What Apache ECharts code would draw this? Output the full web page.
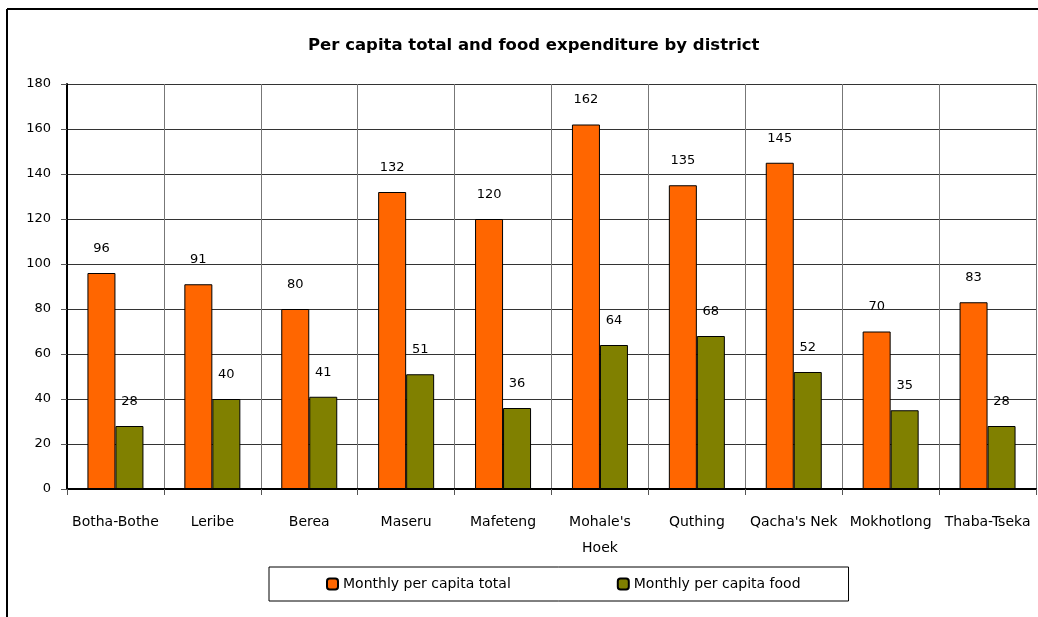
<!DOCTYPE html>
<html>
<head>
<meta charset="utf-8">
<script src="https://cdn.jsdelivr.net/npm/echarts@6/dist/echarts.min.js"></script>
<style>html,body{margin:0;padding:0;background:#fff;}#c{width:1038px;height:617px;}</style>
</head>
<body>
<div id="c"></div>
<script>
const districts = ['Botha-Bothe','Leribe','Berea','Maseru','Mafeteng',"Mohale's\nHoek",'Quthing',"Qacha's Nek",'Mokhotlong','Thaba-Tseka'];
const totalValues = [96, 91, 80, 132, 120, 162, 135, 145, 70, 83];
const foodValues = [28, 40, 41, 51, 36, 64, 68, 52, 35, 28];
const seriesNames = ['Monthly per capita total','Monthly per capita food'];
const titleText = 'Per capita total and food expenditure by district';

const FONT = '"DejaVu Sans", sans-serif';
const chart = echarts.init(document.getElementById('c'), null, {renderer:'canvas'});
const labelStyle = {show:true, position:'top', distance:18, color:'#000', fontSize:13, fontFamily:FONT};
chart.setOption({
  backgroundColor:'#fff',
  animation:false,
  title:{text:titleText, left:303, top:32, textStyle:{fontSize:16.5, fontWeight:'bold', color:'#000', fontFamily:FONT}},
  graphic:[
    {type:'line', shape:{x1:7,y1:9,x2:1100,y2:9}, style:{stroke:'#000', lineWidth:2}, silent:true},
    {type:'line', shape:{x1:7,y1:9,x2:7,y2:700}, style:{stroke:'#000', lineWidth:2}, silent:true}
  ],
  legend:{
    left:269, top:567, orient:'horizontal',
    padding:[10,48,10,57], itemGap:106,
    borderColor:'#000', borderWidth:1,
    itemWidth:11, itemHeight:11,
    textStyle:{fontSize:14, color:'#000', fontFamily:FONT},
    data:seriesNames
  },
  grid:{left:67, right:2, top:84, bottom:128},
  xAxis:{
    type:'category', data:districts,
    axisLine:{lineStyle:{color:'#000', width:2}},
    axisTick:{show:true, length:6, lineStyle:{color:'#555'}},
    axisLabel:{color:'#000', fontSize:14, fontFamily:FONT, margin:20, lineHeight:26, interval:0},
    splitLine:{show:true, lineStyle:{color:'#777', width:1}}
  },
  yAxis:{
    type:'value', min:0, max:180, interval:20,
    axisLine:{show:true, lineStyle:{color:'#000', width:2}},
    axisTick:{show:true, length:6, lineStyle:{color:'#555'}},
    axisLabel:{color:'#000', fontSize:13, fontFamily:FONT, margin:16},
    splitLine:{show:true, lineStyle:{color:'#333', width:1}}
  },
  series:[
    {name:seriesNames[0], type:'bar', data:totalValues, barWidth:28, barGap:'0%',
     itemStyle:{color:'#FF6600', borderColor:'#000', borderWidth:1}, label:labelStyle},
    {name:seriesNames[1], type:'bar', data:foodValues, barWidth:28, barGap:'0%',
     itemStyle:{color:'#808000', borderColor:'#000', borderWidth:1}, label:labelStyle}
  ]
});
</script>
</body>
</html>
